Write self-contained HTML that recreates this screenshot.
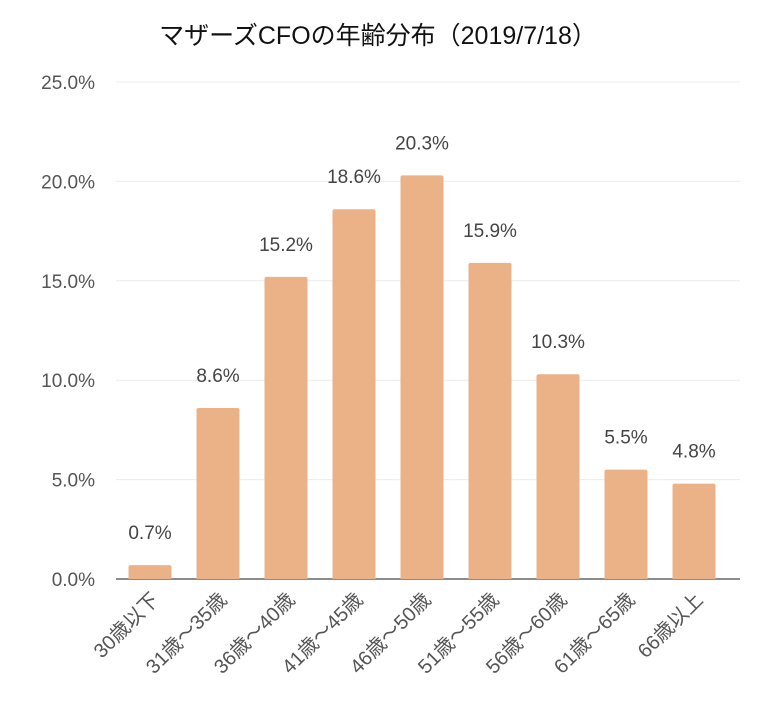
<!DOCTYPE html>
<html><head><meta charset="utf-8"><style>
body{margin:0;background:#fff;}
svg text{font-family:"Liberation Sans","Noto Sans CJK JP",sans-serif;}
</style></head><body>
<svg id="chart" width="768" height="713" xmlns="http://www.w3.org/2000/svg">
<text x="378" y="44" text-anchor="middle" font-size="25" fill="#111">マザーズCFOの年齢分布（2019/7/18）</text>
<g id="grid"></g><g id="bars"></g><g id="labels"></g>
</svg>
<script>
const categories=["30歳以下","31歳～35歳","36歳～40歳","41歳～45歳","46歳～50歳","51歳～55歳","56歳～60歳","61歳～65歳","66歳以上"];
const values=[0.7,8.6,15.2,18.6,20.3,15.9,10.3,5.5,4.8];
const valueLabels=["0.7%","8.6%","15.2%","18.6%","20.3%","15.9%","10.3%","5.5%","4.8%"];
const yTicks=[0,5,10,15,20,25];
const yTickLabels=["0.0%","5.0%","10.0%","15.0%","20.0%","25.0%"];
const NS="http://www.w3.org/2000/svg";
const x0=116,step=68,bw=43,yBase=579,yTop=82,yMax=25;
const y=v=>yBase-(v/yMax)*(yBase-yTop);
const xc=i=>x0+step*i+step/2;
function mk(t,a,p){const e=document.createElementNS(NS,t);for(const k in a)e.setAttribute(k,a[k]);p.appendChild(e);return e;}
const g=document.getElementById('grid'),b=document.getElementById('bars'),l=document.getElementById('labels');
yTicks.forEach((t,i)=>{
 const ln=mk('line',{x1:x0,x2:740,y1:y(t),y2:y(t),stroke:i==0?'#666':'#ececec','stroke-width':i==0?1.5:1},g);
 
 
 const tx=mk('text',{x:95,y:y(t)+7,'text-anchor':'end','font-size':19,fill:'#555'},g);
 tx.textContent=yTickLabels[i];
 
 
});
values.forEach((v,i)=>{
 const r=mk('path',{d:`M${xc(i)-bw/2},${yBase} V${y(v)+2} q0,-2 2,-2 H${xc(i)+bw/2-2} q2,0 2,2 V${yBase} Z`,fill:'#ebb287'},b);
 
 
 const vt=mk('text',{x:xc(i),y:y(v)-26,'text-anchor':'middle','font-size':19,fill:'#444'},l);
 vt.textContent=valueLabels[i];
 
 
 const ct=mk('text',{x:0,y:0,'text-anchor':'end','font-size':20,fill:'#555',transform:`translate(${xc(i)+10},${yBase+22}) rotate(-45)`},l);
 ct.textContent=categories[i];
 
 
});
</script>
</body></html>
